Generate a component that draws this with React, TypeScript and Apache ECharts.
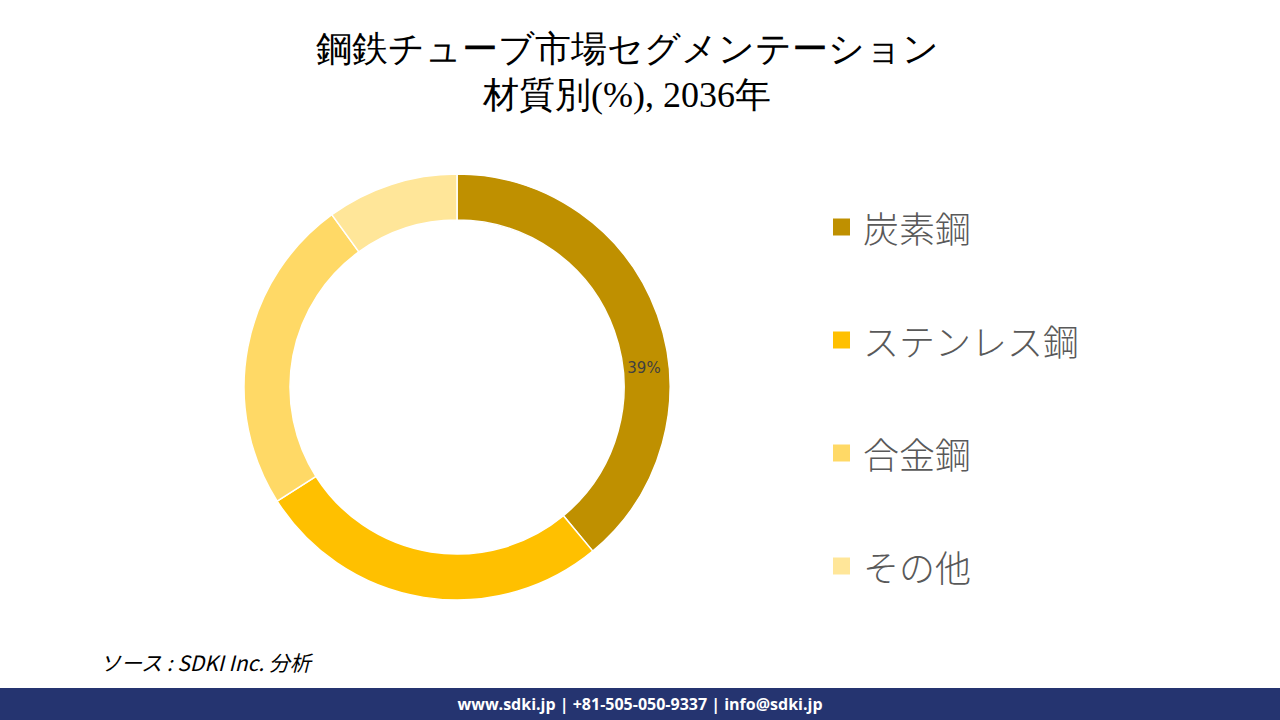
import React, { useEffect, useRef } from "react";
import * as echarts from "echarts";

const titleLines = ["鋼鉄チューブ市場セグメンテーション", "材質別(%), 2036年"];
const categories = ["炭素鋼", "ステンレス鋼", "合金鋼", "その他"];
const shares = [39, 27, 24, 10];
const colors = ["#BF9000", "#FFC000", "#FFD966", "#FFE699"];
const sourceText = "ソース : SDKI Inc. 分析";
const footerText = "www.sdki.jp | +81-505-050-9337 | info@sdki.jp";

export default function App() {
  const ref = useRef<HTMLDivElement>(null);
  useEffect(() => {
    if (!ref.current) return;
    const chart = echarts.init(ref.current, null, { renderer: "svg" });
    chart.setOption({
      animation: false,
      backgroundColor: "#ffffff",
      title: {
        text: titleLines.join("\n"),
        left: 627,
        top: 26,
        textAlign: "center",
        padding: 0,
        textStyle: {
          fontFamily: "'Liberation Serif', 'DejaVu Serif', serif",
          fontSize: 36,
          fontWeight: "normal",
          color: "#000000",
          lineHeight: 46,
        },
      },
      legend: {
        orient: "vertical",
        left: 831,
        top: 207,
        padding: 0,
        itemWidth: 19,
        itemHeight: 19,
        itemGap: 73,
        icon: "rect",
        data: categories,
        textStyle: {
          fontFamily: "'Noto Sans CJK JP', 'Noto Sans', sans-serif",
          fontSize: 36,
          fontWeight: 300,
          color: "#595959",
          lineHeight: 40,
          padding: [0, 0, 0, 7],
        },
      },
      series: [
        {
          type: "pie",
          center: [457, 387],
          radius: [167, 213],
          startAngle: 90,
          clockwise: true,
          label: { show: false },
          labelLine: { show: false },
          itemStyle: { borderColor: "#ffffff", borderWidth: 1.5 },
          emphasis: { disabled: true },
          data: categories.map((c, i) => ({
            name: c,
            value: shares[i],
            itemStyle: { color: colors[i] },
          })),
        },
      ],
      graphic: [
        {
          type: "text",
          x: 644,
          y: 368,
          z: 100,
          style: {
            text: `${shares[0]}%`,
            fontFamily: "'DejaVu Sans', sans-serif",
            fontSize: 15,
            fill: "#404040",
            align: "center",
            verticalAlign: "middle",
          },
        },
        {
          type: "text",
          x: 100,
          y: 662,
          z: 100,
          style: {
            text: sourceText,
            fontFamily: "'Noto Sans CJK JP', 'Open Sans', sans-serif",
            fontStyle: "italic",
            fontSize: 21,
            fill: "#000000",
            verticalAlign: "middle",
          },
        },
        {
          type: "rect",
          z: 100,
          shape: { x: 0, y: 688, width: 1280, height: 32 },
          style: { fill: "#253470" },
        },
        {
          type: "text",
          x: 640,
          y: 704,
          z: 101,
          style: {
            text: footerText,
            fontFamily: "'Open Sans', 'Noto Sans', sans-serif",
            fontWeight: "bold",
            fontSize: 16,
            fill: "#ffffff",
            align: "center",
            verticalAlign: "middle",
          },
        },
      ],
    });
    return () => chart.dispose();
  }, []);
  return (
    <div
      ref={ref}
      style={{ position: "fixed", left: 0, top: 0, width: 1280, height: 720 }}
    />
  );
}
